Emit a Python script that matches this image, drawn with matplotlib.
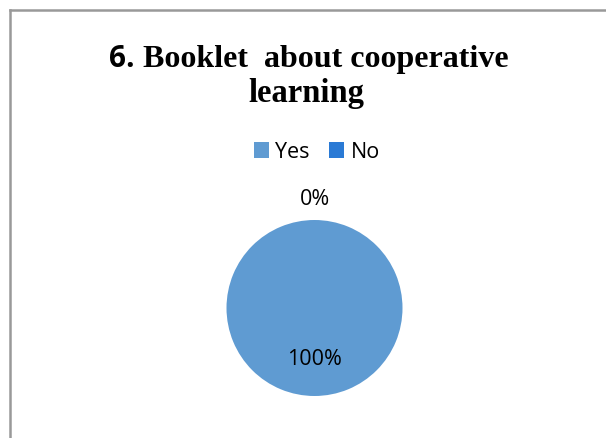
import matplotlib.pyplot as plt
from matplotlib.patches import Patch
import numpy as np

# -----------------------------
# Datos
# -----------------------------
categories = ["Yes", "No"]
values = [100, 0]
colors = ["#5F9BD2", "#2A7AD5"]
title_num = "6."
title_line1 = " Booklet  about cooperative"
title_line2 = "learning"

W, H = 606, 438
fig = plt.figure(figsize=(W / 100, H / 100), dpi=100)

# marco gris del area del grafico
fig.add_artist(plt.Line2D([10 / W, 10 / W], [0, 1 - 10 / H], color="#999999", lw=1.8))
fig.add_artist(plt.Line2D([10 / W, 1], [1 - 10 / H, 1 - 10 / H], color="#999999", lw=1.8))

# -----------------------------
# Titulo (numero en sans, resto en serif)
# -----------------------------
renderer = fig.canvas.get_renderer()
t1 = fig.text(0, 0, title_num, family="Open Sans", fontweight="bold", fontsize=21.5)
t2 = fig.text(0, 0, title_line1, family="Liberation Serif", fontweight="bold", fontsize=23)
w1 = t1.get_window_extent(renderer).width
w2 = t2.get_window_extent(renderer).width
x0 = 309 - (w1 + w2) / 2
base1 = 1 - 67 / H
t1.set_position((x0 / W, base1))
t2.set_position(((x0 + w1) / W, base1))
t1.set_va("baseline")
t2.set_va("baseline")
fig.text(306.5 / W, 1 - 102 / H, title_line2, family="Liberation Serif", fontweight="bold",
         fontsize=23.5, ha="center", va="baseline")

# -----------------------------
# Pastel
# -----------------------------
cx, cy, r = 314.5, 308, 88
ax = fig.add_axes([(cx - r) / W, 1 - (cy + r) / H, 2 * r / W, 2 * r / H])
wedges, _ = ax.pie(values, colors=colors, startangle=90, counterclock=False, radius=1)
ax.set_xlim(-1, 1)
ax.set_ylim(-1, 1)
ax.set_aspect("equal")
ax.axis("off")

total = sum(values)
for w, v in zip(wedges, values):
    ang = np.deg2rad((w.theta1 + w.theta2) / 2)
    d = 0.59 if v > 0 else 1.23
    ax.text(d * np.cos(ang), d * np.sin(ang), f"{v / total * 100:.0f}%",
            family="Open Sans", fontsize=15.5, ha="center", va="center", clip_on=False)

# -----------------------------
# Leyenda
# -----------------------------
handles = [Patch(facecolor=c, edgecolor="none") for c in colors]
fig.legend(handles, categories, loc="center", bbox_to_anchor=(317 / W, 1 - 152 / H),
           ncol=2, frameon=False, prop={"family": "Open Sans", "size": 15.5},
           handlelength=0.7, handleheight=0.7, handletextpad=0.3, columnspacing=0.9)

fig.savefig("out.png", dpi=100)
